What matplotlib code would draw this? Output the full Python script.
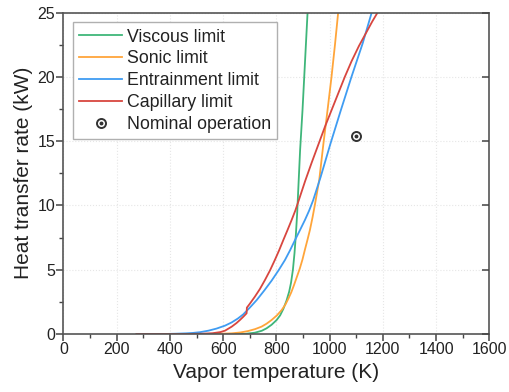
import matplotlib
matplotlib.use("Agg")
import matplotlib.pyplot as plt
from matplotlib.ticker import MultipleLocator

plt.rcParams['font.family'] = ['Liberation Sans', 'DejaVu Sans']

# values (T in K, Q in kW)
viscous_T = [275, 600, 682, 719, 745, 763, 782, 801, 814, 826, 838, 848, 855, 862, 868,
             873, 878, 882, 889, 898, 907, 917]
viscous_Q = [0, 0, 0.01, 0.1, 0.25, 0.44, 0.72, 1.09, 1.45, 1.95, 2.6, 3.3, 4.0, 5.0, 6.3,
             7.7, 9.4, 11.2, 14.3, 17.4, 21.0, 25.0]

sonic_T = [275, 500, 580, 632, 665, 694, 720, 744, 763, 782, 802, 820, 834, 845, 856,
           866, 877, 888, 898, 907, 917, 926, 936, 945, 961, 976, 992, 1007, 1020, 1032]
sonic_Q = [0, 0, 0.01, 0.05, 0.12, 0.23, 0.38, 0.57, 0.8, 1.09, 1.45, 1.87, 2.3, 2.75, 3.25,
           3.8, 4.45, 5.1, 5.8, 6.55, 7.35, 8.1, 9.1, 10.1, 12.0, 14.7, 17.4, 20.0, 22.5, 25.0]

entrain_T = [275, 380, 420, 460, 485, 513, 545, 575, 607, 632, 655, 675, 700, 726, 755,
             782, 808, 832, 851, 870, 889, 907, 923, 938, 966, 1003, 1042, 1082, 1124, 1158]
entrain_Q = [0, 0, 0.02, 0.05, 0.08, 0.14, 0.26, 0.42, 0.65, 0.9, 1.2, 1.52, 2.05, 2.64, 3.4,
             4.15, 4.95, 5.75, 6.5, 7.31, 8.1, 8.86, 9.6, 10.4, 12.2, 14.8, 17.4, 20.0, 22.6, 25.0]

capillary_T = [275, 450, 520, 560, 590, 607, 632, 650, 663, 676, 688, 689, 700, 719, 738,
               757, 776, 794, 810, 826, 842, 857, 871, 884, 908, 932, 957, 982, 1007, 1032,
               1057, 1082, 1110, 1139, 1160, 1180]
capillary_Q = [0, 0, 0.02, 0.06, 0.15, 0.26, 0.57, 0.85, 1.09, 1.35, 1.61, 2.05, 2.35, 2.9, 3.5,
               4.2, 4.95, 5.75, 6.5, 7.31, 8.1, 8.86, 9.6, 10.4, 11.9, 13.3, 14.7, 16.1, 17.4, 18.7,
               20.0, 21.2, 22.4, 23.5, 24.3, 25.0]

nominal_T = [1100]
nominal_Q = [15.4]

fig = plt.figure(figsize=(5.1, 3.92), dpi=100)
ax = fig.add_axes([0.1245, 0.148, 0.835, 0.820])

ax.grid(True, which='major', color='#e6e6e6', linestyle=':', linewidth=0.8)
ax.set_axisbelow(True)

lw = 1.3
ax.plot(viscous_T, viscous_Q, color='#3fb67a', lw=lw, label='Viscous limit')
ax.plot(sonic_T, sonic_Q, color='#ffa53a', lw=lw, label='Sonic limit')
ax.plot(entrain_T, entrain_Q, color='#3f9cf2', lw=lw, label='Entrainment limit')
ax.plot(capillary_T, capillary_Q, color='#d8463f', lw=lw, label='Capillary limit')
m1, = ax.plot(nominal_T, nominal_Q, 'o', ms=6.5, mfc='white', mec='#333333', mew=1.4, ls='none')
m2, = ax.plot(nominal_T, nominal_Q, 'o', ms=1.8, color='#333333', ls='none')

ax.set_xlim(0, 1600)
ax.set_ylim(0, 25)
ax.xaxis.set_major_locator(MultipleLocator(200))
ax.xaxis.set_minor_locator(MultipleLocator(100))
ax.yaxis.set_major_locator(MultipleLocator(5))
ax.yaxis.set_minor_locator(MultipleLocator(2.5))
ax.tick_params(which='both', direction='out', color='#444444', labelsize=11.5,
               labelcolor='#222222', pad=1)
ax.tick_params(which='major', length=5, width=1.1)
ax.tick_params(which='minor', length=3, width=1.0)
for s in ax.spines.values():
    s.set_color('#555555')
    s.set_linewidth(1.2)

# right side: inward major ticks only
ax2 = ax.twinx()
ax2.set_ylim(0, 25)
ax2.yaxis.set_major_locator(MultipleLocator(5))
ax2.tick_params(axis='y', direction='in', length=5, width=1.1, color='#444444', labelright=False)
for s in ax2.spines.values():
    s.set_visible(False)

ax.set_xlabel('Vapor temperature (K)', fontsize=15, color='#222222', labelpad=4)
ax.set_ylabel('Heat transfer rate (kW)', fontsize=15, color='#222222', labelpad=3)

handles, labels = ax.get_legend_handles_labels()
handles.append((m1, m2))
labels.append('Nominal operation')
leg = ax.legend(handles, labels, loc='upper left', fontsize=12.8, frameon=True,
                fancybox=False, edgecolor='#b0b0b0', framealpha=1,
                handlelength=2.4, handletextpad=0.25, labelspacing=0.27,
                borderpad=0.35, borderaxespad=0.55)
leg.get_frame().set_linewidth(1.0)
for t in leg.get_texts():
    t.set_color('#222222')

fig.savefig('out.png', dpi=100)
